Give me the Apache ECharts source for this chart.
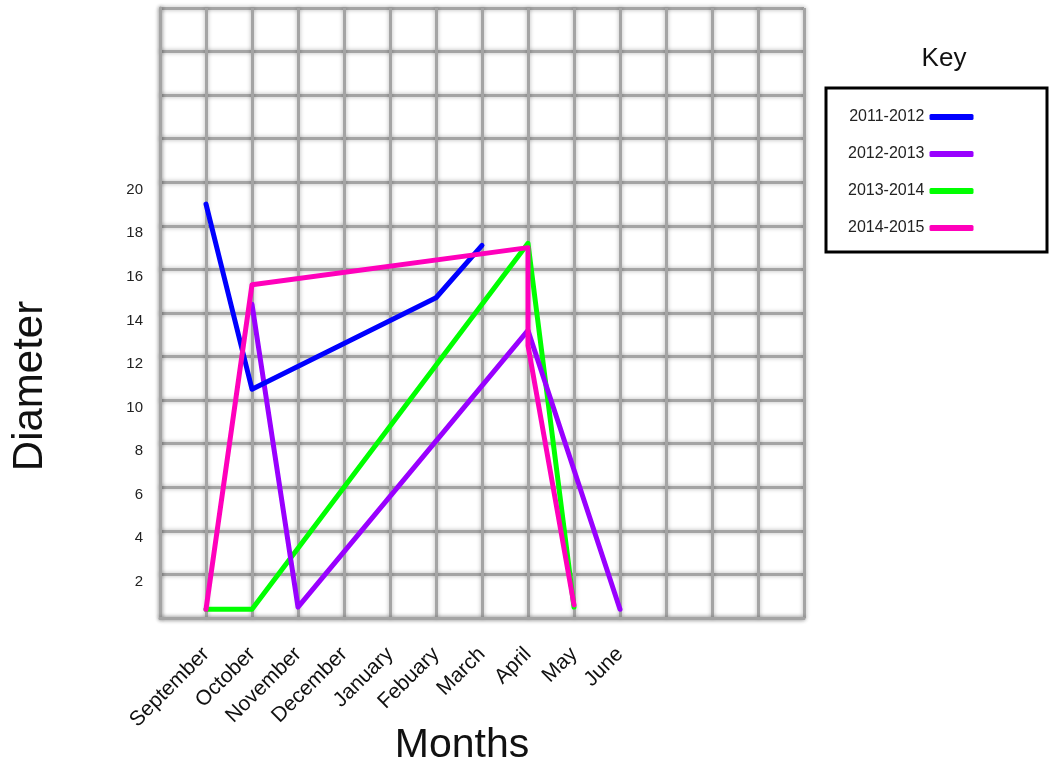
<!DOCTYPE html>
<html>
<head>
<meta charset="utf-8">
<script src="https://cdn.jsdelivr.net/npm/echarts@6/dist/echarts.min.js"></script>
<style>
  html, body { margin: 0; padding: 0; background: #ffffff; }
  #chart { width: 1062px; height: 768px; }
</style>
</head>
<body>
<div id="chart"></div>
<script>
// Month labels along the x axis (position = index + 1)
const months = ['September', 'October', 'November', 'December', 'January',
                'Febuary', 'March', 'April', 'May', 'June'];
// Labelled diameter ticks
const yTicks = [2, 4, 6, 8, 10, 12, 14, 16, 18, 20];
// Season names, in key order
const seasons = ['2011-2012', '2012-2013', '2013-2014', '2014-2015'];
const seasonColors = ['#0000ff', '#9900ff', '#00ff00', '#ff00bb'];

// Diameter readings per season: [month, diameter]
const season2011 = [['September', 19], ['October', 10.5], ['Febuary', 14.7], ['March', 17.1]];
const season2012 = [['October', 14.4], ['November', 0.5], ['April', 13.2], ['June', 0.4]];
const season2013 = [['September', 0.4], ['October', 0.4], ['April', 17.2], ['May', 0.5]];
const season2014 = [['September', 0.4], ['October', 15.3], ['April', 17.0], ['April', 12.5], ['May', 0.6]];

const seasonData = [season2011, season2012, season2013, season2014];

const toPoints = rows => rows.map(([m, v]) => [months.indexOf(m) + 1, v]);

const FONT = 'Liberation Sans, Arial, sans-serif';

const gridLine = {
  color: '#a4a4a4',
  width: 3,
  shadowBlur: 4,
  shadowColor: 'rgba(0,0,0,0.3)'
};

// draw order: green, purple, blue, pink on top
const drawOrder = [2, 1, 0, 3];

const series = drawOrder.map(i => ({
  name: seasons[i],
  type: 'line',
  data: toPoints(seasonData[i]),
  showSymbol: false,
  symbol: 'none',
  color: seasonColors[i],
  lineStyle: { width: 5, cap: 'round', join: 'round', color: seasonColors[i] },
  animation: false
}));

const chart = echarts.init(document.getElementById('chart'), null, { renderer: 'canvas' });

chart.setOption({
  animation: false,
  backgroundColor: '#ffffff',
  textStyle: { fontFamily: FONT },
  grid: { left: 160, right: 258, top: 8, bottom: 150, containLabel: false },
  xAxis: {
    type: 'value',
    min: 0,
    max: 14,
    interval: 1,
    axisLine: { show: true, lineStyle: gridLine },
    axisTick: { show: false },
    splitLine: { show: true, lineStyle: gridLine },
    axisLabel: {
      rotate: 45,
      fontSize: 21,
      color: '#111',
      margin: 33,
      showMinLabel: true,
      showMaxLabel: true,
      formatter: v => months[v - 1] || ''
    }
  },
  yAxis: {
    type: 'value',
    min: 0,
    max: 28,
    interval: 2,
    axisLine: { show: true, lineStyle: gridLine },
    axisTick: { show: false },
    splitLine: { show: true, lineStyle: gridLine },
    axisLabel: {
      fontSize: 15,
      color: '#222',
      margin: 17,
      verticalAlign: 'top',
      formatter: v => (yTicks.includes(v) ? String(v) : '')
    }
  },
  legend: {
    data: seasons,
    orient: 'vertical',
    left: 843,
    top: 104,
    align: 'right',
    icon: 'roundRect',
    itemWidth: 44,
    itemHeight: 6,
    itemGap: 21,
    textStyle: { fontSize: 16, color: '#222' }
  },
  graphic: [
    {
      type: 'rect',
      shape: { x: 826, y: 88, width: 221, height: 164 },
      style: { fill: 'none', stroke: '#000', lineWidth: 3 }
    },
    {
      type: 'text',
      x: 944, y: 59,
      style: { text: 'Key', fontSize: 26, fill: '#111', textAlign: 'center', textVerticalAlign: 'middle',
               fontFamily: FONT }
    },
    {
      type: 'text',
      x: 30, y: 386,
      rotation: Math.PI / 2,
      style: { text: 'Diameter', fontSize: 42, fill: '#111', textAlign: 'center', textVerticalAlign: 'middle',
               fontFamily: FONT }
    },
    {
      type: 'text',
      x: 462, y: 746,
      style: { text: 'Months', fontSize: 41, fill: '#111', textAlign: 'center', textVerticalAlign: 'middle',
               fontFamily: FONT }
    }
  ],
  series: series
});
</script>
</body>
</html>
